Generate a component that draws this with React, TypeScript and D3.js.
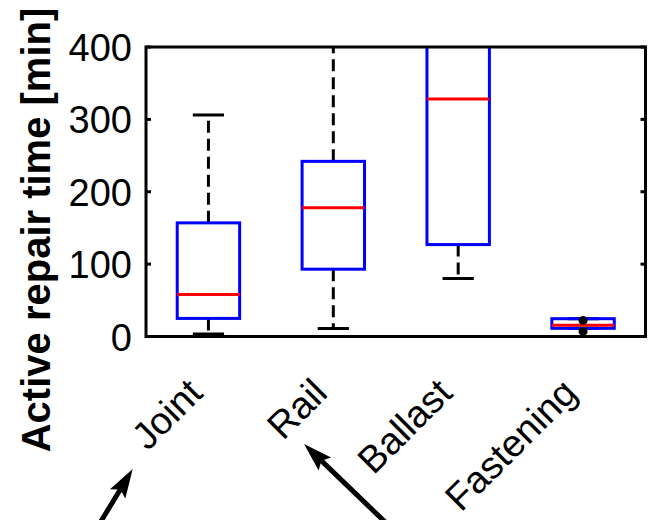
import React from "react";
import * as d3 from "d3";

const WIDTH = 648;
const HEIGHT = 520;

// Box-plot statistics per failure category (minutes)
const categories = ["Joint", "Rail", "Ballast", "Fastening"];
const lowerWhisker = [3.5, 11, 80, 11.3];
const q1 = [25, 93, 127, 11.3];
const median = [58, 178, 328, 15.5];
const q3 = [157, 242, 470, 24.6];
const upperWhisker = [306, 560, 720, 24.6];
const outliers: number[][] = [[], [], [], [22, 7]];

const yTicks = [0, 100, 200, 300, 400];

// Callout arrows (figure coordinates: tail, tip)
const arrowTails: [number, number][] = [[95.7, 530], [393.4, 530]];
const arrowTips: [number, number][] = [[132.7, 469], [304, 444]];

const FONT = "'Liberation Sans', Arial, Helvetica, sans-serif";

function Arrow({ tail, tip }: { tail: [number, number]; tip: [number, number] }) {
  const dx = tip[0] - tail[0];
  const dy = tip[1] - tail[1];
  const len = Math.hypot(dx, dy);
  const ux = dx / len;
  const uy = dy / len;
  const px = -uy;
  const py = ux;
  const headLen = 29;
  const headHalf = 9;
  const notch = 5;
  const bx = tip[0] - ux * headLen;
  const by = tip[1] - uy * headLen;
  const nx = tip[0] - ux * (headLen - notch);
  const ny = tip[1] - uy * (headLen - notch);
  const head = [
    [tip[0], tip[1]],
    [bx + px * headHalf, by + py * headHalf],
    [nx, ny],
    [bx - px * headHalf, by - py * headHalf],
  ];
  return (
    <g>
      <line x1={tail[0]} y1={tail[1]} x2={nx} y2={ny} stroke="#000" strokeWidth={5} />
      <polygon points={head.map((p) => p.join(",")).join(" ")} fill="#000" />
    </g>
  );
}

export default function App() {
  const left = 146;
  const right = 645.5;
  const top = 47;
  const bottom = 336.5;

  const x = d3.scaleLinear().domain([0.5, 4.5]).range([left, right]);
  const y = d3.scaleLinear().domain([0, 400]).range([bottom, top]);
  const boxHalf = (x(1.25) - x(1)) ;
  const capHalf = (x(1.125) - x(1));

  return (
    <svg
      width={WIDTH}
      height={HEIGHT}
      style={{ position: "fixed", left: 0, top: 0, background: "#fff" }}
      fontFamily={FONT}
    >
      <defs>
        <clipPath id="plot-clip">
          <rect x={left} y={top} width={right - left} height={bottom - top} />
        </clipPath>
      </defs>
      <rect x={0} y={0} width={WIDTH} height={HEIGHT} fill="#fff" />

      <g clipPath="url(#plot-clip)">
        {categories.map((c, i) => {
          const cx = x(i + 1);
          return (
            <g key={c}>
              {/* whiskers */}
              <line x1={cx} x2={cx} y1={y(q3[i])} y2={y(upperWhisker[i])} stroke="#000" strokeWidth={3} strokeDasharray="12,6" />
              <line x1={cx} x2={cx} y1={y(q1[i])} y2={y(lowerWhisker[i])} stroke="#000" strokeWidth={3} strokeDasharray="12,6" />
              <line x1={cx - capHalf} x2={cx + capHalf} y1={y(upperWhisker[i])} y2={y(upperWhisker[i])} stroke="#000" strokeWidth={3} />
              <line x1={cx - capHalf} x2={cx + capHalf} y1={y(lowerWhisker[i])} y2={y(lowerWhisker[i])} stroke="#000" strokeWidth={3} />
              {/* box */}
              <rect
                x={cx - boxHalf}
                y={y(q3[i])}
                width={boxHalf * 2}
                height={y(q1[i]) - y(q3[i])}
                fill="none"
                stroke="#0000ff"
                strokeWidth={3}
              />
              {/* median */}
              <line x1={cx - boxHalf} x2={cx + boxHalf} y1={y(median[i])} y2={y(median[i])} stroke="#ff0000" strokeWidth={3} />
              {outliers[i].map((v, k) => (
                <circle key={k} cx={cx} cy={y(v)} r={4.5} fill="#000" />
              ))}
            </g>
          );
        })}
      </g>

      {/* y ticks, both sides */}
      {yTicks.map((t) => (
        <g key={t}>
          <line x1={left} x2={left + 5} y1={y(t)} y2={y(t)} stroke="#000" strokeWidth={3} />
          <line x1={right} x2={right - 5} y1={y(t)} y2={y(t)} stroke="#000" strokeWidth={3} />
          <text x={132} y={y(t) + 14} textAnchor="end" fontSize={38} fill="#000">
            {t}
          </text>
        </g>
      ))}

      {/* frame */}
      <rect x={left} y={top} width={right - left} height={bottom - top} fill="none" stroke="#000" strokeWidth={3} />

      {/* category labels */}
      {categories.map((c, i) => (
        <text
          key={c}
          transform={`translate(${x(i + 1) - 4},395) rotate(-45)`}
          textAnchor="end"
          fontSize={38}
          fill="#000"
        >
          {c}
        </text>
      ))}

      {/* y axis title */}
      <text
        transform="translate(50,230) rotate(-90)"
        textAnchor="middle"
        fontSize={40}
        fontWeight="bold"
        fill="#000"
      >
        Active repair time [min]
      </text>

      {arrowTails.map((t, i) => (
        <Arrow key={i} tail={t} tip={arrowTips[i]} />
      ))}
    </svg>
  );
}
